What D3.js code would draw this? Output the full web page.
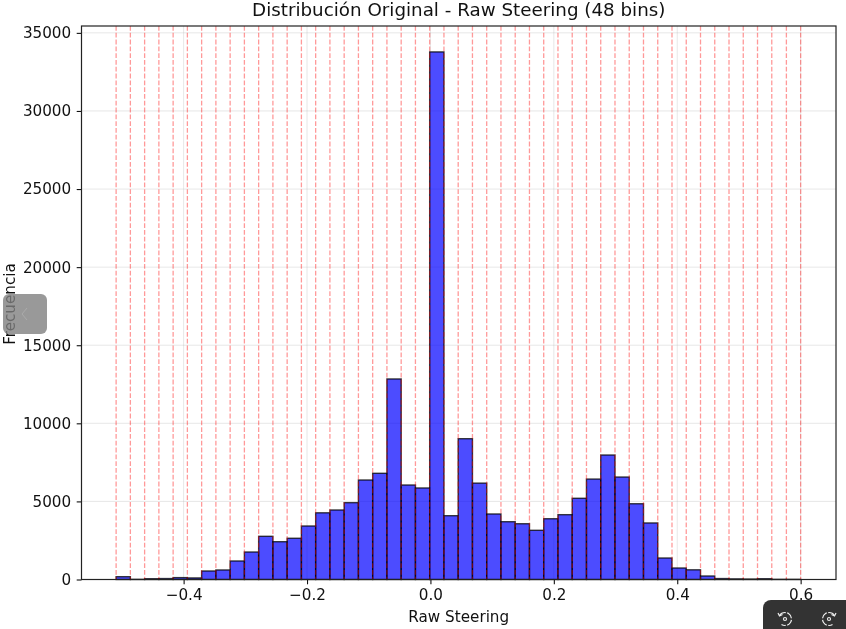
<!DOCTYPE html>
<html>
<head>
<meta charset="utf-8">
<script src="https://cdnjs.cloudflare.com/ajax/libs/d3/7.8.5/d3.min.js"></script>
<style>
  html, body { margin: 0; padding: 0; background: #fff; overflow: hidden; }
  svg { display: block; filter: blur(0.3px); }
  text { font-family: "DejaVu Sans", sans-serif; fill: #111; }
</style>
</head>
<body>
<svg id="chart" width="846" height="629"></svg>
<script>
// bin edges, one red dashed line each
var binEdges = [-0.5094, -0.4863, -0.4632, -0.4401, -0.4170, -0.3939, -0.3708, -0.3477,
  -0.3246, -0.3015, -0.2784, -0.2553, -0.2322, -0.2091, -0.1860, -0.1629,
  -0.1398, -0.1167, -0.0936, -0.0705, -0.0474, -0.0243, -0.0012, 0.0219,
  0.0450, 0.0681, 0.0912, 0.1143, 0.1374, 0.1605, 0.1836, 0.2067,
  0.2298, 0.2529, 0.2760, 0.2991, 0.3222, 0.3453, 0.3684, 0.3915,
  0.4146, 0.4377, 0.4608, 0.4839, 0.5070, 0.5301, 0.5532, 0.5769, 0.6000];

var counts = [180, 10, 50, 60, 120, 100, 545, 610,
  1185, 1760, 2765, 2420, 2640, 3425, 4270, 4450,
  4920, 6370, 6800, 12840, 6050, 5860, 33780, 4085,
  9015, 6170, 4195, 3700, 3570, 3150, 3890, 4150,
  5200, 6430, 7970, 6560, 4850, 3620, 1376, 736,
  620, 224, 60, 40, 30, 50, 10, 10];

var xTicks = [-0.4, -0.2, 0.0, 0.2, 0.4, 0.6];
var yTicks = [0, 5000, 10000, 15000, 20000, 25000, 30000, 35000];

var titleText = "Distribución Original - Raw Steering (48 bins)";
var xLabel = "Raw Steering";
var yLabel = "Frecuencia";

var svg = d3.select("#chart");
var plotLeft = 81.5, plotRight = 836, plotTop = 26, plotBottom = 579.5;

var x = d3.scaleLinear().domain([-0.5655, 0.6573]).range([plotLeft, plotRight]);
var y = d3.scaleLinear().domain([0, 35440]).range([plotBottom, plotTop]);

//Grid
var grid = svg.append("g");
grid.selectAll(".gx").data(xTicks).enter().append("line")
    .attr("x1", d => x(d)).attr("x2", d => x(d))
    .attr("y1", plotTop).attr("y2", plotBottom)
    .attr("stroke", "#b0b0b0").attr("stroke-opacity", 0.3).attr("stroke-width", 1);
grid.selectAll(".gy").data(yTicks).enter().append("line")
    .attr("x1", plotLeft).attr("x2", plotRight)
    .attr("y1", d => y(d)).attr("y2", d => y(d))
    .attr("stroke", "#b0b0b0").attr("stroke-opacity", 0.3).attr("stroke-width", 1);

//Bars
svg.append("g").selectAll("rect").data(counts).enter().append("rect")
    .attr("x", (d, i) => x(binEdges[i]))
    .attr("width", (d, i) => x(binEdges[i + 1]) - x(binEdges[i]))
    .attr("y", d => y(d))
    .attr("height", d => plotBottom - y(d))
    .attr("fill", "#0000ff").attr("fill-opacity", 0.7)
    .attr("stroke", "#000").attr("stroke-opacity", 0.75).attr("stroke-width", 1.4);

//Red bin edges
svg.append("g").selectAll("line").data(binEdges).enter().append("line")
    .attr("x1", d => x(d)).attr("x2", d => x(d))
    .attr("y1", plotTop).attr("y2", plotBottom)
    .attr("stroke", "#ff0000").attr("stroke-opacity", 0.4).attr("stroke-width", 1.3)
    .attr("stroke-dasharray", "4.8,2");

//Axes
var xAxis = d3.axisBottom(x).tickValues(xTicks)
    .tickFormat(d => d3.format(".1f")(d).replace("-", "\u2212")).tickSizeOuter(0).tickSize(4.8).tickPadding(4.5);
var yAxis = d3.axisLeft(y).tickValues(yTicks).tickFormat(d => String(d)).tickSizeOuter(0).tickSize(4.8).tickPadding(5.5);

var gx = svg.append("g").attr("transform", `translate(0,${plotBottom})`).call(xAxis);
var gy = svg.append("g").attr("transform", `translate(${plotLeft},0)`).call(yAxis);
[gx, gy].forEach(g => {
    g.select(".domain").remove();
    g.selectAll("line").attr("stroke", "#111").attr("stroke-width", 1.1);
    g.selectAll("text").style("font-size", "15.2px").attr("fill", "#111");
});

//Frame
svg.append("rect").attr("x", plotLeft).attr("y", plotTop)
    .attr("width", plotRight - plotLeft).attr("height", plotBottom - plotTop)
    .attr("fill", "none").attr("stroke", "#222").attr("stroke-width", 1.2);

//Labels
svg.append("text").attr("x", (plotLeft + plotRight) / 2).attr("y", 16).attr("text-anchor", "middle")
    .style("font-size", "18.3px").text(titleText);
svg.append("text").attr("x", (plotLeft + plotRight) / 2).attr("y", 622).attr("text-anchor", "middle")
    .style("font-size", "15.2px").text(xLabel);
svg.append("text").attr("transform", "translate(15,304) rotate(-90)").attr("text-anchor", "middle")
    .style("font-size", "15.2px").text(yLabel);

//Viewer overlays sitting on the screenshot
var back = svg.append("g");
back.append("rect").attr("x", 3).attr("y", 294).attr("width", 44).attr("height", 40).attr("rx", 6)
    .attr("fill", "#808080").attr("fill-opacity", 0.8);
back.append("path").attr("d", "M27,308 L22,314 L27,320").attr("fill", "none")
    .attr("stroke", "#aaa").attr("stroke-width", 1);

var bar = svg.append("g");
bar.append("path").attr("d", "M846,600 H771 a8,8 0 0 0 -8,8 V629 H846 Z").attr("fill", "#333");
function rotateIcon(cx, mirror) {
    var g = bar.append("g").attr("transform", `translate(${cx},619) scale(${mirror ? -1 : 1},1)`)
        .attr("fill", "none").attr("stroke", "#eee").attr("stroke-width", 1.2);
    g.append("path").attr("d", "M-5.5,-3.5 A6.5,6.5 0 1 1 -3.5,5.5").attr("stroke-dasharray", "7,1.5");
    g.append("path").attr("d", "M-7,-6 L-5.5,-3 L-2.5,-4.5");
    g.append("circle").attr("r", 1.5);
}
rotateIcon(785, false);
rotateIcon(829, true);
</script>
</body>
</html>
